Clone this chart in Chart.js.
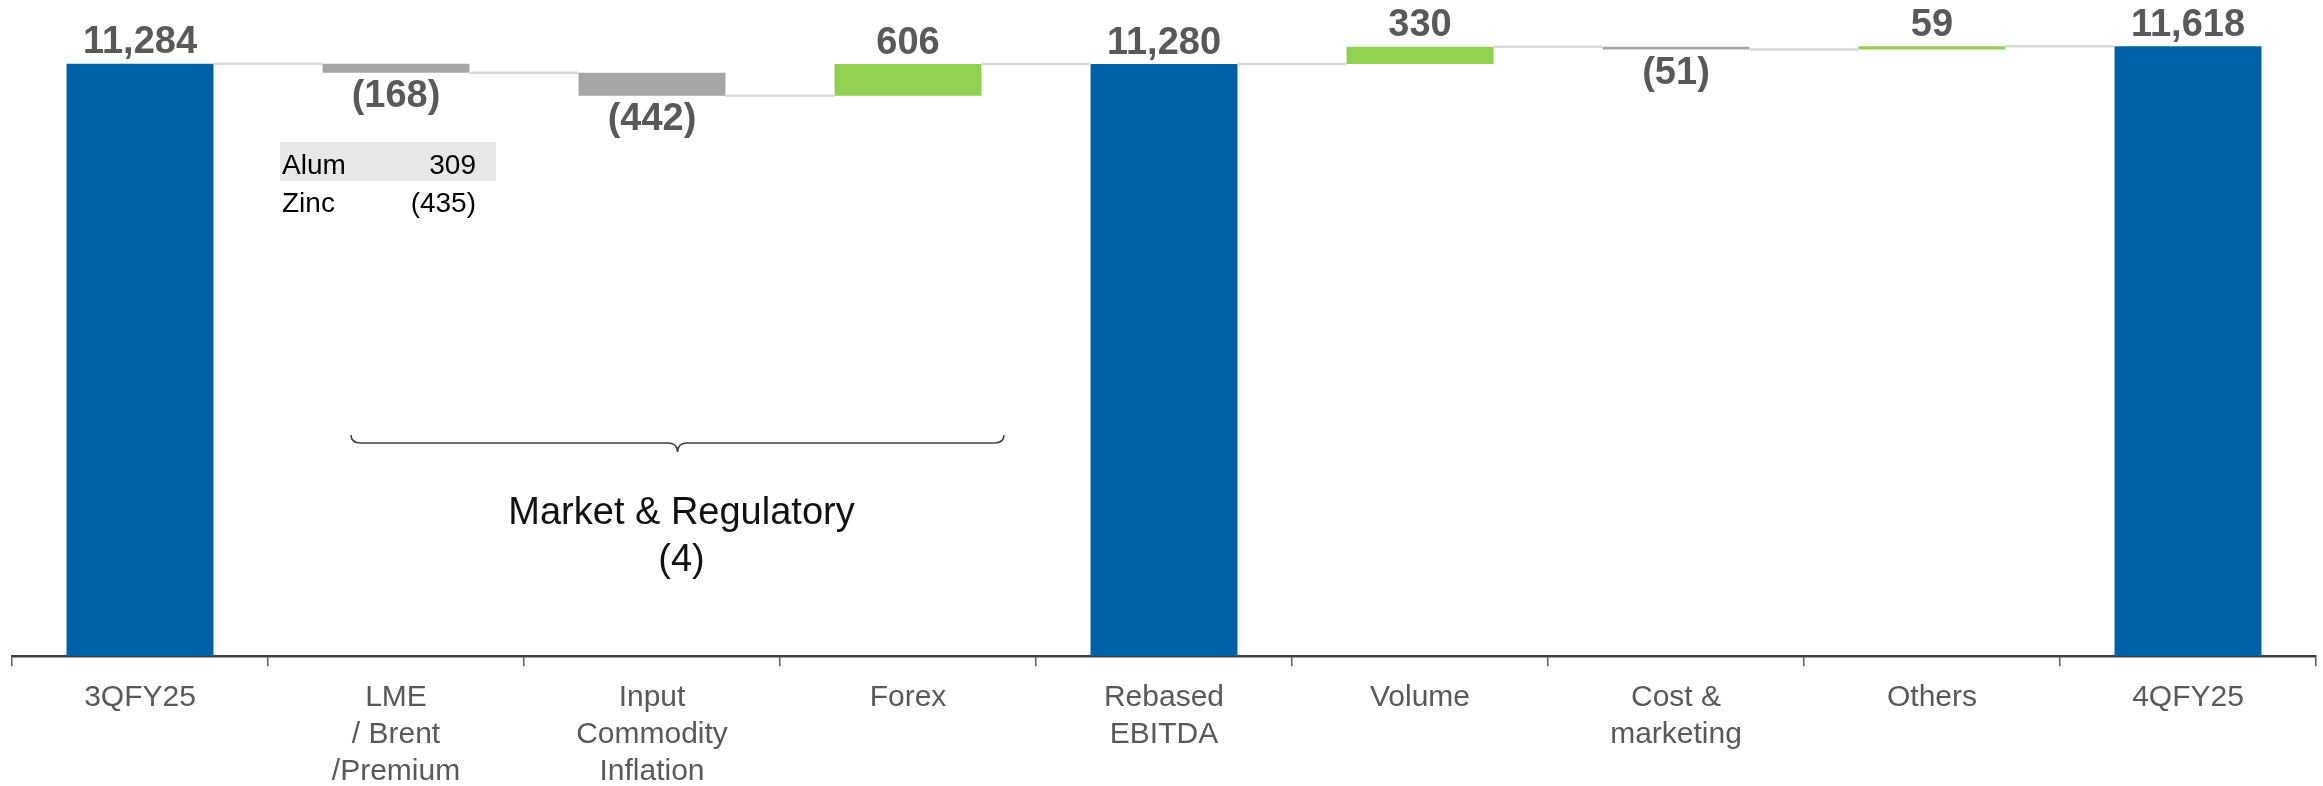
<!DOCTYPE html>
<html>
<head>
<meta charset="utf-8">
<script src="https://cdn.jsdelivr.net/npm/chart.js@4.4.1/dist/chart.umd.min.js"></script>
<style>
  html, body { margin: 0; padding: 0; background: #fff; }
  #wrap { width: 2323px; height: 786px; position: relative; }
</style>
</head>
<body>
<div id="wrap"><canvas id="chart"></canvas></div>
<script>
// data
const categories = ['3QFY25', ['LME', '/ Brent', '/Premium'], ['Input', 'Commodity', 'Inflation'], 'Forex',
    ['Rebased', 'EBITDA'], 'Volume', ['Cost &', 'marketing'], 'Others', '4QFY25'];
const changes = [11284, -168, -442, 606, 11280, 330, -51, 59, 11618];
const isTotal = [true, false, false, false, true, false, false, false, true];

// small breakdown under LME bar
const breakdownNames = ['Alum', 'Zinc'];
const breakdownValues = ['309', '(435)'];

// bracket over LME..Forex
const groupName = 'Market & Regulatory';
const groupValue = '(4)';
const groupFrom = 1;
const groupTo = 3;

const blue = '#0062a6';
const green = '#92d050';
const grey = '#a6a6a6';
const textGrey = '#595959';
const font = '"Liberation Sans", Arial, sans-serif';

// build floating ranges + running levels
const ranges = [];
const levels = [];
let run = 0;
changes.forEach((v, i) => {
    if (isTotal[i]) {
        ranges.push([0, v]);
        run = v;
    } else {
        ranges.push([run, run + v]);
        run += v;
    }
    levels.push(run);
});
const colors = changes.map((v, i) => isTotal[i] ? blue : (v >= 0 ? green : grey));

function fmt(v) {
    const s = Math.abs(v).toLocaleString('en-US');
    return v < 0 ? '(' + s + ')' : s;
}

const waterfallPlugin = {
    id: 'waterfall',
    afterDatasetsDraw(chart) {
        const ctx = chart.ctx;
        const meta = chart.getDatasetMeta(0);
        const y = chart.scales.y;
        ctx.save();
        // connectors
        ctx.strokeStyle = '#d9d9d9';
        ctx.lineWidth = 2.5;
        for (let i = 0; i < meta.data.length - 1; i++) {
            const a = meta.data[i], b = meta.data[i + 1];
            const yy = y.getPixelForValue(levels[i]);
            ctx.beginPath();
            ctx.moveTo(a.x + a.width / 2, yy);
            ctx.lineTo(b.x - b.width / 2, yy);
            ctx.stroke();
        }
        // value labels
        ctx.font = 'bold 38px ' + font;
        ctx.fillStyle = textGrey;
        ctx.textAlign = 'center';
        ctx.textBaseline = 'middle';
        meta.data.forEach((bar, i) => {
            const hi = y.getPixelForValue(Math.max(...ranges[i]));
            const lo = y.getPixelForValue(Math.min(...ranges[i]));
            if (changes[i] >= 0) ctx.fillText(fmt(changes[i]), bar.x, hi - 21);
            else ctx.fillText(fmt(changes[i]), bar.x, lo + 24);
        });
        ctx.restore();
    },
    afterDraw(chart) {
        const ctx = chart.ctx;
        const x = chart.scales.x;
        const top = chart.chartArea.top;
        ctx.save();

        // breakdown table
        const cx = x.getPixelForValue(1);
        const left = cx - 116, right = cx + 100;
        ctx.fillStyle = '#e7e7e7';
        ctx.fillRect(left, top + 142, right - left, 39);
        ctx.font = '28px ' + font;
        ctx.fillStyle = '#000';
        ctx.textBaseline = 'alphabetic';
        breakdownNames.forEach((n, i) => {
            const by = top + 174 + i * 38;
            ctx.textAlign = 'left';
            ctx.fillText(n, left + 2, by);
            ctx.textAlign = 'right';
            ctx.fillText(breakdownValues[i], right - 20, by);
        });

        // brace
        const bl = x.getPixelForValue(groupFrom) - 45;
        const br = x.getPixelForValue(groupTo) + 96;
        const bm = (bl + br) / 2;
        const y0 = top + 435, y1 = top + 443, y2 = top + 452;
        ctx.strokeStyle = '#404040';
        ctx.lineWidth = 1.5;
        ctx.beginPath();
        ctx.moveTo(bl, y0);
        ctx.quadraticCurveTo(bl, y1, bl + 10, y1);
        ctx.lineTo(bm - 10, y1);
        ctx.quadraticCurveTo(bm, y1, bm, y2);
        ctx.quadraticCurveTo(bm, y1, bm + 10, y1);
        ctx.lineTo(br - 10, y1);
        ctx.quadraticCurveTo(br, y1, br, y0);
        ctx.stroke();

        ctx.font = '38px ' + font;
        ctx.fillStyle = '#111';
        ctx.textAlign = 'center';
        ctx.textBaseline = 'middle';
        ctx.fillText(groupName, bm + 4, top + 514);
        ctx.fillText(groupValue, bm + 4, top + 561);
        ctx.restore();
    }
};

new Chart(document.getElementById('chart'), {
    type: 'bar',
    data: {
        labels: categories,
        datasets: [{
            data: ranges,
            backgroundColor: colors,
            borderWidth: 0,
            borderSkipped: false,
            barPercentage: 0.574,
            categoryPercentage: 1
        }]
    },
    options: {
        responsive: true,
        maintainAspectRatio: false,
        animation: false,
        layout: { padding: { left: 12, right: 7, top: 0, bottom: 0 } },
        plugins: { legend: { display: false }, tooltip: { enabled: false } },
        scales: {
            x: {
                offset: true,
                grid: { offset: true, drawOnChartArea: false, drawTicks: true, tickLength: 10, color: textGrey, lineWidth: 1.5 },
                border: { display: true, color: '#404040', width: 2.5 },
                ticks: {
                    color: textGrey,
                    font: { family: font, size: 30, lineHeight: 1.24 },
                    padding: 13,
                    maxRotation: 0,
                    autoSkip: false
                },
                afterFit(s) { s.height = 130; }
            },
            y: { display: false, min: 0, max: 12500 }
        }
    },
    plugins: [waterfallPlugin]
});
</script>
</body>
</html>
